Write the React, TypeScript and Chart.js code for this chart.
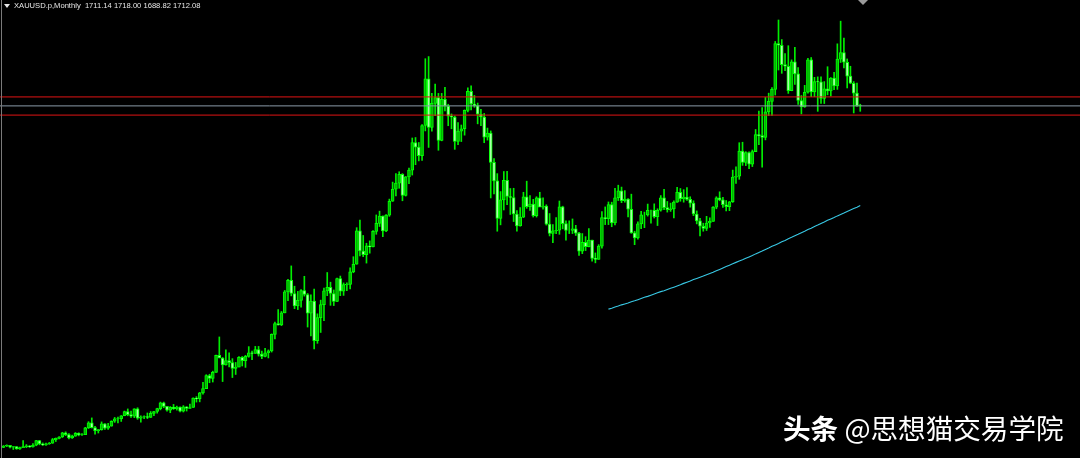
import React, { useEffect, useRef } from "react";
import { Chart, registerables } from "chart.js";

Chart.register(...registerables);

// XAUUSD monthly candles, Nov 2000 .. Sep 2022 (index 0 = Nov 2000)
const opens: number[] = [
  264, 270,
  273, 265, 267, 258, 263, 267, 271, 266, 273, 293, 279, 275,
  279, 282, 297, 302, 308, 326, 318, 304, 312, 324, 317, 318,
  347, 368, 348, 335, 339, 364, 346, 354, 375, 385, 386, 398,
  416, 403, 396, 427, 388, 393, 395, 391, 408, 416, 428, 453,
  438, 422, 434, 428, 435, 417, 436, 429, 433, 473, 470, 495,
  513, 568, 556, 582, 654, 643, 613, 632, 623, 599, 604, 646,
  632, 650, 665, 662, 679, 659, 650, 665, 673, 743, 789, 783,
  834, 923, 972, 916, 864, 887, 928, 912, 833, 884, 716, 814,
  869, 927, 942, 916, 883, 979, 926, 954, 955, 1008, 1040, 1182,
  1096, 1081, 1118, 1113, 1179, 1213, 1244, 1181, 1248, 1307, 1358, 1384,
  1421, 1332, 1410, 1439, 1556, 1536, 1500, 1628, 1826, 1620, 1722, 1746,
  1565, 1739, 1710, 1668, 1664, 1561, 1604, 1614, 1692, 1773, 1719, 1712,
  1676, 1664, 1579, 1596, 1472, 1393, 1234, 1313, 1396, 1327, 1323, 1253,
  1202, 1240, 1326, 1284, 1295, 1246, 1322, 1282, 1287, 1210, 1171, 1182,
  1184, 1283, 1212, 1183, 1183, 1190, 1172, 1095, 1133, 1115, 1142, 1065,
  1061, 1117, 1238, 1233, 1293, 1215, 1322, 1351, 1309, 1316, 1273, 1173,
  1152, 1211, 1249, 1249, 1268, 1268, 1242, 1269, 1322, 1280, 1271, 1275,
  1303, 1345, 1318, 1325, 1315, 1299, 1253, 1224, 1201, 1192, 1215, 1222,
  1282, 1321, 1313, 1292, 1284, 1305, 1409, 1413, 1520, 1472, 1513, 1464,
  1517, 1589, 1585, 1577, 1686, 1730, 1781, 1975, 1968, 1886, 1879, 1776,
  1898, 1847, 1734, 1707, 1769, 1906, 1770, 1814, 1813, 1743, 1783, 1774,
  1829, 1796, 1909, 1937, 1896, 1837, 1807, 1765, 1711,
];
const highs: number[] = [
  272, 275,
  273, 268, 268, 265, 293, 276, 272, 280, 294, 294, 283, 282,
  285, 302, 304, 310, 328, 330, 323, 316, 327, 326, 323, 349,
  373, 389, 353, 340, 372, 365, 366, 377, 391, 393, 399, 418,
  427, 418, 428, 432, 398, 398, 410, 416, 417, 430, 456, 456,
  438, 437, 446, 439, 436, 441, 437, 448, 474, 479, 497, 540,
  572, 574, 587, 655, 732, 645, 677, 665, 640, 624, 649, 649,
  654, 691, 672, 692, 692, 672, 684, 677, 745, 795, 848, 840,
  929, 976, 1033, 947, 925, 933, 989, 916, 910, 935, 830, 888,
  939, 1005, 964, 931, 981, 990, 961, 961, 1025, 1072, 1195, 1227,
  1162, 1129, 1139, 1183, 1249, 1265, 1245, 1251, 1316, 1388, 1424, 1432,
  1424, 1412, 1447, 1575, 1577, 1556, 1632, 1911, 1920, 1764, 1803, 1764,
  1764, 1790, 1718, 1677, 1668, 1640, 1630, 1694, 1788, 1796, 1755, 1723,
  1696, 1679, 1617, 1605, 1488, 1424, 1348, 1433, 1434, 1361, 1362, 1267,
  1280, 1345, 1392, 1331, 1315, 1326, 1345, 1322, 1292, 1255, 1208, 1238,
  1308, 1286, 1224, 1224, 1232, 1205, 1175, 1170, 1157, 1191, 1142, 1088,
  1123, 1263, 1283, 1304, 1303, 1362, 1375, 1367, 1352, 1318, 1337, 1180,
  1220, 1264, 1261, 1295, 1270, 1296, 1275, 1331, 1357, 1306, 1299, 1309,
  1366, 1361, 1356, 1365, 1326, 1309, 1266, 1235, 1214, 1243, 1237, 1284,
  1326, 1347, 1324, 1310, 1306, 1439, 1453, 1555, 1557, 1517, 1516, 1524,
  1611, 1689, 1704, 1747, 1765, 1789, 1984, 2075, 1992, 1933, 1966, 1906,
  1959, 1873, 1755, 1798, 1913, 1916, 1832, 1834, 1834, 1814, 1877, 1831,
  1853, 1974, 2070, 1998, 1910, 1879, 1814, 1808, 1718,
];
const lows: number[] = [
  263, 267,
  262, 255, 256, 255, 263, 263, 264, 265, 271, 275, 272, 272,
  277, 281, 289, 300, 306, 314, 300, 302, 311, 313, 315, 318,
  344, 346, 320, 325, 337, 340, 340, 354, 370, 368, 374, 398,
  398, 391, 390, 383, 371, 386, 386, 391, 398, 409, 423, 432,
  417, 411, 425, 422, 414, 414, 418, 429, 433, 456, 457, 490,
  513, 538, 541, 582, 643, 543, 612, 605, 560, 573, 605, 609,
  603, 646, 636, 662, 651, 640, 647, 643, 668, 724, 782, 780,
  834, 886, 906, 852, 848, 858, 905, 774, 736, 681, 705, 751,
  801, 907, 866, 865, 881, 907, 908, 928, 935, 1004, 1040, 1075,
  1072, 1045, 1087, 1113, 1167, 1200, 1157, 1178, 1243, 1306, 1330, 1362,
  1309, 1329, 1381, 1418, 1462, 1478, 1480, 1605, 1535, 1604, 1670, 1523,
  1563, 1690, 1627, 1614, 1527, 1547, 1560, 1587, 1686, 1694, 1705, 1635,
  1627, 1555, 1566, 1321, 1338, 1180, 1207, 1270, 1292, 1251, 1221, 1180,
  1201, 1238, 1277, 1268, 1240, 1240, 1284, 1273, 1206, 1160, 1131, 1170,
  1167, 1190, 1142, 1170, 1170, 1162, 1077, 1085, 1098, 1113, 1053, 1046,
  1061, 1108, 1208, 1208, 1199, 1207, 1310, 1301, 1303, 1241, 1171, 1123,
  1146, 1191, 1195, 1244, 1214, 1236, 1204, 1265, 1271, 1261, 1264, 1236,
  1302, 1307, 1303, 1310, 1282, 1246, 1211, 1160, 1180, 1183, 1196, 1221,
  1275, 1309, 1281, 1266, 1267, 1302, 1382, 1400, 1459, 1458, 1445, 1454,
  1517, 1547, 1451, 1567, 1670, 1671, 1757, 1863, 1849, 1860, 1764, 1775,
  1802, 1717, 1677, 1705, 1765, 1750, 1750, 1688, 1721, 1721, 1758, 1753,
  1780, 1781, 1895, 1872, 1787, 1805, 1681, 1709, 1688,
];
const closes: number[] = [
  270, 273,
  265, 267, 258, 263, 267, 271, 266, 273, 293, 279, 275, 279,
  282, 297, 302, 308, 326, 318, 304, 312, 324, 317, 318, 347,
  368, 348, 335, 339, 364, 346, 354, 375, 385, 386, 398, 416,
  403, 396, 427, 388, 393, 395, 391, 408, 416, 428, 453, 438,
  422, 434, 428, 435, 417, 436, 429, 433, 473, 470, 495, 513,
  568, 556, 582, 654, 643, 613, 632, 623, 599, 604, 646, 632,
  650, 665, 662, 679, 659, 650, 665, 673, 743, 789, 783, 834,
  923, 972, 916, 864, 887, 928, 912, 833, 884, 716, 814, 869,
  927, 942, 916, 883, 979, 926, 954, 955, 1008, 1040, 1182, 1096,
  1081, 1118, 1113, 1179, 1213, 1244, 1181, 1248, 1307, 1358, 1384, 1421,
  1332, 1410, 1439, 1556, 1536, 1500, 1628, 1826, 1620, 1722, 1746, 1565,
  1739, 1710, 1668, 1664, 1561, 1604, 1614, 1692, 1773, 1719, 1712, 1676,
  1664, 1579, 1596, 1472, 1393, 1234, 1313, 1396, 1327, 1323, 1253, 1202,
  1240, 1326, 1284, 1295, 1246, 1322, 1282, 1287, 1210, 1171, 1182, 1184,
  1283, 1212, 1183, 1183, 1190, 1172, 1095, 1133, 1115, 1142, 1065, 1061,
  1117, 1238, 1233, 1293, 1215, 1322, 1351, 1309, 1316, 1273, 1173, 1152,
  1211, 1249, 1249, 1268, 1268, 1242, 1269, 1322, 1280, 1271, 1275, 1303,
  1345, 1318, 1325, 1315, 1299, 1253, 1224, 1201, 1192, 1215, 1222, 1282,
  1321, 1313, 1292, 1284, 1305, 1409, 1413, 1520, 1472, 1513, 1464, 1517,
  1589, 1585, 1577, 1686, 1730, 1781, 1975, 1968, 1886, 1879, 1776, 1898,
  1847, 1734, 1707, 1769, 1906, 1770, 1814, 1813, 1743, 1783, 1774, 1829,
  1796, 1909, 1937, 1896, 1837, 1807, 1765, 1711, 1712,
];

// 200-period moving average, visible from Apr 2016 (candle index 185)
const maStart = 185;
const maValues: number[] = [
  850, 854, 859, 863, 868, 872, 876, 881, 885,
  890, 895, 900, 904, 909, 914, 919, 924, 928, 933, 938, 943,
  948, 953, 959, 964, 969, 975, 980, 985, 990, 996, 1001, 1006,
  1012, 1018, 1024, 1030, 1036, 1042, 1048, 1054, 1059, 1065, 1071, 1077,
  1084, 1090, 1096, 1103, 1109, 1116, 1122, 1128, 1135, 1141, 1148, 1154,
  1161, 1167, 1174, 1180, 1187, 1193, 1200, 1206, 1213, 1219, 1226, 1232,
  1238, 1245, 1251, 1257, 1264, 1270, 1276, 1282, 1289,
];

// horizontal levels
const redLevels: number[] = [1749, 1672];
const bidLevel = 1711;

const titleText = "XAUUSD.p,Monthly  1711.14 1718.00 1688.82 1712.08";
const watermarkBold = "头条";
const watermarkRest = "@思想猫交易学院";

export default function App() {
  const ref = useRef<HTMLCanvasElement | null>(null);

  useEffect(() => {
    document.body.style.margin = "0";
    document.body.style.background = "#000";
    const canvas = ref.current;
    if (!canvas) return;

    const bodyData = opens.map((o, i) => ({ x: i, y: [o, closes[i]] }));
    const wickData = opens.map((_, i) => ({ x: i, y: [lows[i], highs[i]] }));
    const bodyFill = opens.map((o, i) => (closes[i] >= o ? "#00b400" : "#a8ffa8"));
    const maData = maValues.map((v, k) => ({ x: maStart + k, y: v }));

    const xMin = -1.07;
    const xMax = 329.2;

    const hLine = (y: number) => [
      { x: xMin - 5, y },
      { x: xMax + 5, y },
    ];

    const chart = new Chart(canvas, {
      type: "bar",
      data: {
        datasets: [
          ...redLevels.map((lvl) => ({
            type: "line" as const,
            data: hLine(lvl),
            borderColor: "#e01414",
            borderWidth: 1,
            pointRadius: 0,
            order: -3,
          })),
          {
            type: "line" as const,
            data: hLine(bidLevel),
            borderColor: "#8a9aa8",
            borderWidth: 1,
            pointRadius: 0,
            order: -3,
          },
          {
            type: "line" as const,
            data: maData,
            borderColor: "#38c8e4",
            borderWidth: 1.1,
            pointRadius: 0,
            tension: 0,
            order: -2,
          },
          {
            type: "bar" as const,
            data: bodyData as any,
            backgroundColor: bodyFill,
            borderColor: "#00ff00",
            borderWidth: 1,
            borderSkipped: false,
            barThickness: 3,
            grouped: false,
            order: 0,
          },
          {
            type: "bar" as const,
            data: wickData as any,
            backgroundColor: "#00ee00",
            borderWidth: 0,
            barThickness: 1,
            grouped: false,
            order: 1,
          },
        ],
      },
      options: {
        responsive: false,
        maintainAspectRatio: false,
        animation: false,
        layout: { padding: 0 },
        plugins: {
          legend: { display: false },
          tooltip: { enabled: false },
          title: { display: false },
        },
        scales: {
          x: {
            type: "linear",
            min: xMin,
            max: xMax,
            offset: false,
            display: false,
          },
          y: {
            type: "linear",
            min: 219.1,
            max: 2159.7,
            display: false,
          },
        },
      },
    });
    return () => chart.destroy();
  }, []);

  return (
    <div
      style={{
        position: "relative",
        width: 1080,
        height: 458,
        background: "#000",
        overflow: "hidden",
      }}
    >
      <canvas
        ref={ref}
        width={1080}
        height={458}
        style={{ position: "absolute", left: 0, top: 0, width: 1080, height: 458 }}
      />
      <div
        style={{
          position: "absolute",
          left: 1,
          top: 0,
          width: 1,
          height: 458,
          background: "#7a7a7a",
        }}
      />
      <div
        style={{
          position: "absolute",
          left: 4,
          top: 4,
          width: 0,
          height: 0,
          borderLeft: "3px solid transparent",
          borderRight: "3px solid transparent",
          borderTop: "4px solid #e8e8e8",
        }}
      />
      <div
        style={{
          position: "absolute",
          left: 14,
          top: 1,
          fontFamily: "'Liberation Sans', Arial, sans-serif",
          fontSize: 7.6,
          lineHeight: "10px",
          color: "#e6e6e6",
          whiteSpace: "pre",
        }}
      >
        {titleText}
      </div>
      <div
        style={{
          position: "absolute",
          left: 858,
          top: 0,
          width: 0,
          height: 0,
          borderLeft: "5px solid transparent",
          borderRight: "5px solid transparent",
          borderTop: "5px solid #9a9a9a",
        }}
      />
      <div
        style={{
          position: "absolute",
          left: 783,
          top: 412,
          fontFamily: "'Noto Sans CJK SC', sans-serif",
          fontSize: 27.6,
          lineHeight: "30px",
          color: "#ffffff",
          whiteSpace: "pre",
          textShadow: "0 0 2px rgba(0,0,0,0.6)",
        }}
      >
        <span style={{ fontWeight: 700 }}>{watermarkBold}</span>
        <span> {watermarkRest}</span>
      </div>
    </div>
  );
}
